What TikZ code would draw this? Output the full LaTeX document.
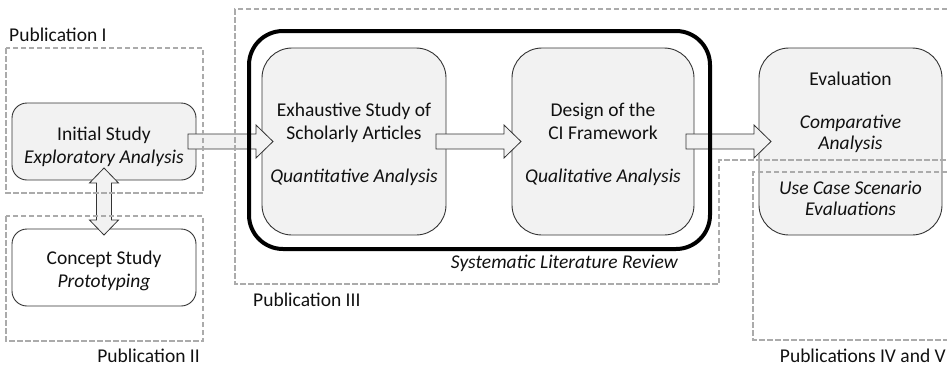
\documentclass[tikz,border=0pt]{standalone}
\usepackage{fontspec}
\setmainfont{Carlito}
\usetikzlibrary{calc}
\definecolor{boxfill}{HTML}{F2F2F2}
\definecolor{edgec}{HTML}{333333}
\definecolor{dashc}{HTML}{ABABAB}
\definecolor{txtc}{HTML}{111111}
\newcommand\blockarrowH[2]{%
  \draw[barrow] ($(#1)+(0,-7.5)$) -- ($(#2)+(-17,-7.5)$) -- ($(#2)+(-17,-16.5)$) -- (#2)
    -- ($(#2)+(-17,16.5)$) -- ($(#2)+(-17,7.5)$) -- ($(#1)+(0,7.5)$) -- cycle;}
\newcommand\tops[1]{\rule{0pt}{#1pt}}
\newcommand\bots{\rule[-6pt]{0pt}{6pt}}
\begin{document}
\begin{tikzpicture}[x=1pt,y=-1pt,
  font=\fontsize{19.5}{23}\selectfont, text=txtc,
  procbox/.style={draw=edgec, line width=0.9pt, fill=boxfill, rounded corners=#1,
    align=center, inner sep=0pt, outer sep=0pt},
  procbox/.default=30pt,
  barrow/.style={draw=edgec, line width=0.8pt, fill=boxfill, line join=miter},
  pubbox/.style={draw=dashc, line width=1.5pt, dash pattern=on 5.5pt off 2.5pt},
  publabel/.style={inner sep=0pt, font=\fontsize{19.5}{23}\selectfont}]
\useasboundingbox (0,0) rectangle (947,365);

% process boxes
\node[procbox=15pt, minimum width=184, minimum height=77] (init) at (104,141.5)
  {\tops{26}Initial Study\\\textit{Exploratory Analysis}\bots};
\node[procbox=15pt, fill=white, minimum width=184, minimum height=77] (concept) at (104,267.5)
  {\tops{22}Concept Study\\\textit{Prototyping}\bots};
\node[procbox, minimum width=184, minimum height=187] (exh) at (354,141.5)
  {\tops{21}Exhaustive Study of\\Scholarly Articles\\[20pt]\textit{Quantitative Analysis}\bots};
\node[procbox, minimum width=182, minimum height=187] (design) at (603,141.5)
  {\tops{21}Design of the\\CI Framework\\[20pt]\textit{Qualitative Analysis}\bots};
\node[procbox, minimum width=183, minimum height=187, font=\fontsize{19.5}{21.5}\selectfont] (eval) at (850.5,141.5)
  {\tops{24}Evaluation\\[21pt]\textit{Comparative}\\\textit{Analysis}\\[23pt]\textit{Use Case Scenario}\\\textit{Evaluations}\bots};

% block arrows
\coordinate (a1s) at ($(init.east)+(-8,0)$);
\coordinate (a1e) at ($(exh.west)+(11,0)$);
\coordinate (a2s) at ($(exh.east)+(-10,0)$);
\coordinate (a2e) at ($(design.west)+(9,0)$);
\coordinate (a3s) at ($(design.east)+(-8,0)$);
\coordinate (a3e) at ($(eval.west)+(12,0)$);
\blockarrowH{a1s}{a1e}
\blockarrowH{a2s}{a2e}
\blockarrowH{a3s}{a3e}

\coordinate (d1) at ($(init.south)+(0,-12)$);
\coordinate (d2) at ($(concept.north)+(0,6)$);
\draw[barrow] (d1) -- ($(d1)+(14.5,15)$) -- ($(d1)+(7.5,15)$) -- ($(d2)+(7.5,-15)$)
  -- ($(d2)+(14.5,-15)$) -- (d2) -- ($(d2)+(-14.5,-15)$) -- ($(d2)+(-7.5,-15)$)
  -- ($(d1)+(-7.5,15)$) -- ($(d1)+(-14.5,15)$) -- cycle;

% systematic literature review frame
\node[draw=black, line width=4pt, rounded corners=34pt, minimum width=461, minimum height=218,
  inner sep=0pt] (slr) at (479.5,140) {};
\node[publabel, anchor=base east, font=\fontsize{19.5}{23}\selectfont\itshape] (slrlab) at (678,268)
  {Systematic Literature Review};

% publication groups
\draw[pubbox] (6,48) rectangle (203,193);
\draw[pubbox] (6,216) rectangle (203,341);
\draw[pubbox] (947,9) -- (235,9) -- (235,284) -- (719,284) -- (719,160) -- (947,160);
\draw[pubbox] (947,172) -- (753,172) -- (753,340) -- (947,340);

\node[publabel, anchor=base west] (p1) at (9,41) {Publication I};
\node[publabel, anchor=base east] (p2) at (200,362) {Publication II};
\node[publabel, anchor=base west] (p3) at (253,306) {Publication III};
\node[publabel, anchor=base east] (p45) at (946,362) {Publications IV and V};
\end{tikzpicture}
\end{document}
